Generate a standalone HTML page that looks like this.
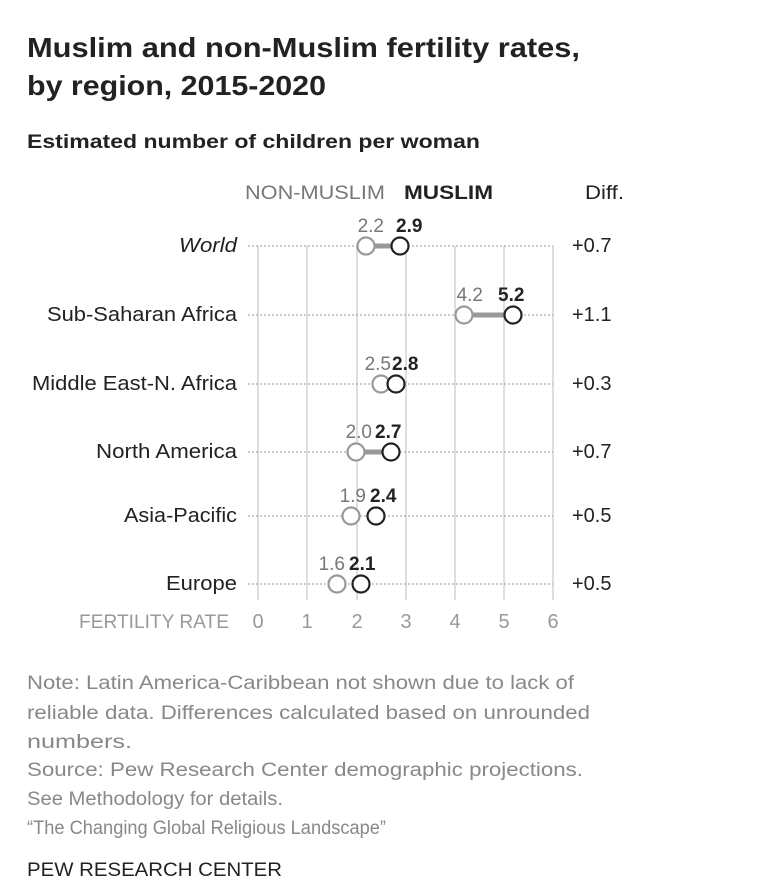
<!DOCTYPE html>
<html><head><meta charset="utf-8"><style>
body{margin:0;background:#fff;width:760px;height:884px;overflow:hidden;font-family:"Liberation Sans",sans-serif;}
</style></head><body>
<svg width="760" height="884" xmlns="http://www.w3.org/2000/svg" font-family="Liberation Sans, sans-serif">
<text x="27" y="57" font-size="28" font-weight="bold" fill="#222" textLength="553" lengthAdjust="spacingAndGlyphs">Muslim and non-Muslim fertility rates,</text>
<text x="27" y="95" font-size="28" font-weight="bold" fill="#222" textLength="299" lengthAdjust="spacingAndGlyphs">by region, 2015-2020</text>
<text x="27" y="148" font-size="19" font-weight="bold" fill="#222" textLength="453" lengthAdjust="spacingAndGlyphs">Estimated number of children per woman</text>
<text x="245" y="199" font-size="19" fill="#777" textLength="140" lengthAdjust="spacingAndGlyphs">NON-MUSLIM</text>
<text x="404" y="199" font-size="19" font-weight="bold" fill="#222" textLength="89" lengthAdjust="spacingAndGlyphs">MUSLIM</text>
<text x="585" y="199" font-size="19" fill="#222" textLength="39" lengthAdjust="spacingAndGlyphs">Diff.</text>
<g stroke="#ccc" stroke-width="1.3">
<line x1="258" y1="246" x2="258" y2="600"/><line x1="307" y1="246" x2="307" y2="600"/>
<line x1="357" y1="246" x2="357" y2="600"/><line x1="406" y1="246" x2="406" y2="600"/>
<line x1="455" y1="246" x2="455" y2="600"/><line x1="504" y1="246" x2="504" y2="600"/>
<line x1="553" y1="246" x2="553" y2="600"/>
</g>
<g stroke="#999" stroke-width="1" stroke-dasharray="2,2">
<line x1="248" y1="246" x2="553" y2="246"/><line x1="248" y1="315" x2="553" y2="315"/>
<line x1="248" y1="384" x2="553" y2="384"/><line x1="248" y1="452" x2="553" y2="452"/>
<line x1="248" y1="516" x2="553" y2="516"/><line x1="248" y1="584" x2="553" y2="584"/>
</g>
<g font-size="20" fill="#222">
<text x="179" y="252" font-style="italic" textLength="58" lengthAdjust="spacingAndGlyphs">World</text>
<text x="47" y="321" textLength="190" lengthAdjust="spacingAndGlyphs">Sub-Saharan Africa</text>
<text x="32" y="390" textLength="205" lengthAdjust="spacingAndGlyphs">Middle East-N. Africa</text>
<text x="96" y="458" textLength="141" lengthAdjust="spacingAndGlyphs">North America</text>
<text x="124" y="522" textLength="113" lengthAdjust="spacingAndGlyphs">Asia-Pacific</text>
<text x="166" y="590" textLength="71" lengthAdjust="spacingAndGlyphs">Europe</text>
</g>
<g font-size="20" fill="#222">
<text x="572" y="252">+0.7</text><text x="572" y="321">+1.1</text><text x="572" y="390">+0.3</text>
<text x="572" y="458">+0.7</text><text x="572" y="522">+0.5</text><text x="572" y="590">+0.5</text>
</g>
<g stroke-width="2.2">
<line x1="366" y1="246" x2="400" y2="246" stroke="#999" stroke-width="5"/>
<circle cx="366" cy="246" r="8.5" fill="#fff" stroke="#999"/><circle cx="400" cy="246" r="8.5" fill="#fff" stroke="#222"/>
<line x1="464" y1="315" x2="513" y2="315" stroke="#999" stroke-width="5"/>
<circle cx="464" cy="315" r="8.5" fill="#fff" stroke="#999"/><circle cx="513" cy="315" r="8.5" fill="#fff" stroke="#222"/>
<circle cx="381" cy="384" r="8.5" fill="#fff" stroke="#999"/><circle cx="396" cy="384" r="8.5" fill="#fff" stroke="#222"/>
<line x1="356" y1="452" x2="391" y2="452" stroke="#999" stroke-width="5"/>
<circle cx="356" cy="452" r="8.5" fill="#fff" stroke="#999"/><circle cx="391" cy="452" r="8.5" fill="#fff" stroke="#222"/>
<circle cx="351" cy="516" r="8.5" fill="#fff" stroke="#999"/><circle cx="376" cy="516" r="8.5" fill="#fff" stroke="#222"/>
<circle cx="337" cy="584" r="8.5" fill="#fff" stroke="#999"/><circle cx="361" cy="584" r="8.5" fill="#fff" stroke="#222"/>
</g>
<g font-size="19">
<text x="384" y="232" text-anchor="end" fill="#777">2.2</text><text x="396" y="232" font-weight="bold" fill="#222">2.9</text>
<text x="483" y="301" text-anchor="end" fill="#777">4.2</text><text x="498" y="301" font-weight="bold" fill="#222">5.2</text>
<text x="391" y="370" text-anchor="end" fill="#777">2.5</text><text x="392" y="370" font-weight="bold" fill="#222">2.8</text>
<text x="372" y="438" text-anchor="end" fill="#777">2.0</text><text x="375" y="438" font-weight="bold" fill="#222">2.7</text>
<text x="366" y="502" text-anchor="end" fill="#777">1.9</text><text x="370" y="502" font-weight="bold" fill="#222">2.4</text>
<text x="345" y="570" text-anchor="end" fill="#777">1.6</text><text x="349" y="570" font-weight="bold" fill="#222">2.1</text>
</g>
<g font-size="20" fill="#999" text-anchor="middle">
<text x="258" y="628">0</text><text x="307" y="628">1</text><text x="357" y="628">2</text>
<text x="406" y="628">3</text><text x="455" y="628">4</text><text x="504" y="628">5</text><text x="553" y="628">6</text>
</g>
<text x="79" y="628" font-size="19" fill="#999" textLength="150" lengthAdjust="spacingAndGlyphs">FERTILITY RATE</text>
<g font-size="19" fill="#888">
<text x="27" y="689" textLength="547" lengthAdjust="spacingAndGlyphs">Note: Latin America-Caribbean not shown due to lack of</text>
<text x="27" y="719" textLength="563" lengthAdjust="spacingAndGlyphs">reliable data. Differences calculated based on unrounded</text>
<text x="27" y="748" textLength="105" lengthAdjust="spacingAndGlyphs">numbers.</text>
<text x="27" y="776" textLength="556" lengthAdjust="spacingAndGlyphs">Source: Pew Research Center demographic projections.</text>
<text x="27" y="805" textLength="256" lengthAdjust="spacingAndGlyphs">See Methodology for details.</text>
<text x="27" y="834" textLength="359" lengthAdjust="spacingAndGlyphs">“The Changing Global Religious Landscape”</text>
</g>
<text x="27" y="876" font-size="19" fill="#222" textLength="255" lengthAdjust="spacingAndGlyphs">PEW RESEARCH CENTER</text>
</svg>
</body></html>
